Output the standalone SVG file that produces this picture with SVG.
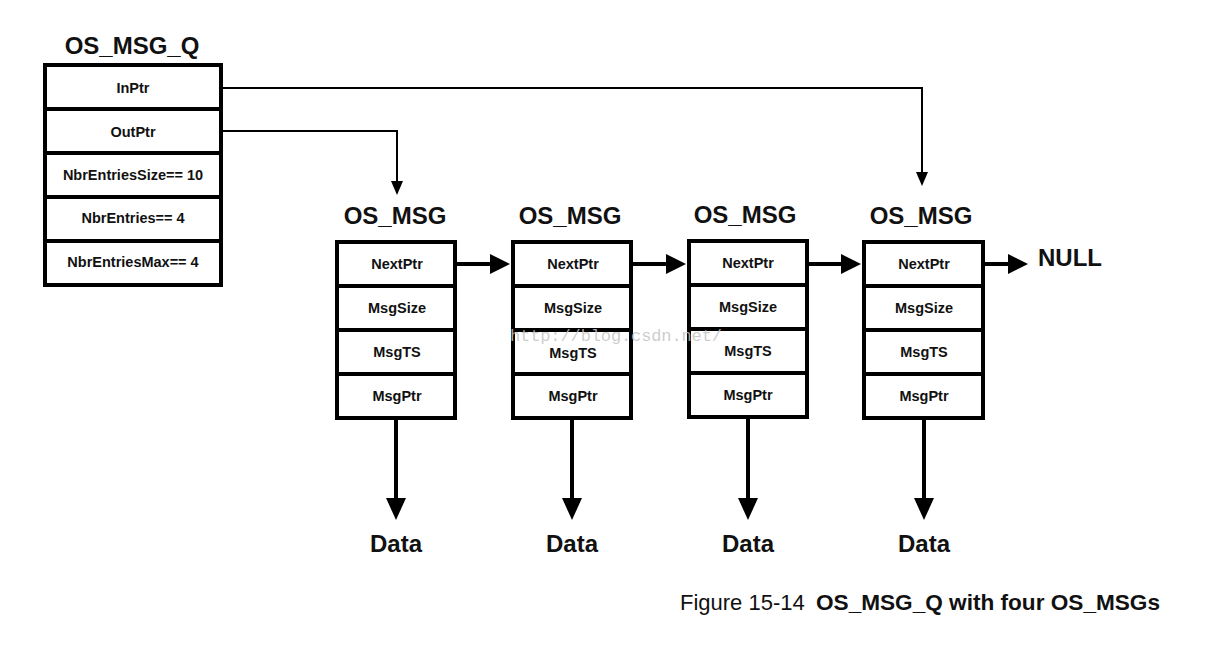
<svg xmlns="http://www.w3.org/2000/svg" width="1212" height="653" viewBox="0 0 1212 653">
<style>
.box{fill:#fff;stroke:#000;stroke-width:4}
.div{stroke:#000;stroke-width:4}
.cell{font-family:"Liberation Sans",Arial,sans-serif;font-weight:bold;font-size:14.5px;fill:#111;text-anchor:middle}
.title{font-family:"Liberation Sans",Arial,sans-serif;font-weight:bold;font-size:24px;fill:#111;text-anchor:middle}
.thin{fill:none;stroke:#000;stroke-width:2}
.thick{fill:none;stroke:#000;stroke-width:4}
.wm{font-family:"Liberation Mono",monospace;font-size:17px;fill:#c4c4c4;fill-opacity:0.85}
.cap{font-family:"Liberation Sans",Arial,sans-serif;font-size:22px;fill:#111}
</style>
<rect width="1212" height="653" fill="#fff"/>

<g id="os_msg_q">
<text class="title" x="132" y="54">OS_MSG_Q</text>
<rect class="box" x="45" y="65" width="176" height="220"/>
<line class="div" x1="45" y1="109" x2="221" y2="109"/>
<line class="div" x1="45" y1="153" x2="221" y2="153"/>
<line class="div" x1="45" y1="197" x2="221" y2="197"/>
<line class="div" x1="45" y1="241" x2="221" y2="241"/>
<text class="cell" x="133" y="93">InPtr</text>
<text class="cell" x="133" y="137">OutPtr</text>
<text class="cell" x="133" y="180">NbrEntriesSize== 10</text>
<text class="cell" x="133" y="223">NbrEntries== 4</text>
<text class="cell" x="133" y="267">NbrEntriesMax== 4</text>
</g>

<g id="msg1">
<text class="title" x="395" y="224">OS_MSG</text>
<rect class="box" x="337" y="242" width="118" height="176"/>
<line class="div" x1="337" y1="286" x2="455" y2="286"/>
<line class="div" x1="337" y1="330" x2="455" y2="330"/>
<line class="div" x1="337" y1="374" x2="455" y2="374"/>
<text class="cell" x="397" y="269">NextPtr</text>
<text class="cell" x="397" y="313">MsgSize</text>
<text class="cell" x="397" y="357">MsgTS</text>
<text class="cell" x="397" y="401">MsgPtr</text>
</g>
<g id="msg2">
<text class="title" x="570" y="224">OS_MSG</text>
<rect class="box" x="513" y="242" width="118" height="176"/>
<line class="div" x1="513" y1="286" x2="631" y2="286"/>
<line class="div" x1="513" y1="330" x2="631" y2="330"/>
<line class="div" x1="513" y1="374" x2="631" y2="374"/>
<text class="cell" x="573" y="313">MsgSize</text>
<text class="cell" x="573" y="269">NextPtr</text>
<text class="cell" x="573" y="358">MsgTS</text>
<text class="cell" x="573" y="401">MsgPtr</text>
</g>
<g id="msg3">
<text class="title" x="745" y="223">OS_MSG</text>
<rect class="box" x="689" y="241" width="118" height="176"/>
<line class="div" x1="689" y1="285" x2="807" y2="285"/>
<line class="div" x1="689" y1="329" x2="807" y2="329"/>
<line class="div" x1="689" y1="373" x2="807" y2="373"/>
<text class="cell" x="748" y="268">NextPtr</text>
<text class="cell" x="748" y="312">MsgSize</text>
<text class="cell" x="748" y="356">MsgTS</text>
<text class="cell" x="748" y="400">MsgPtr</text>
</g>
<g id="msg4">
<text class="title" x="921" y="224">OS_MSG</text>
<rect class="box" x="864" y="242" width="119" height="176"/>
<line class="div" x1="864" y1="286" x2="983" y2="286"/>
<line class="div" x1="864" y1="330" x2="983" y2="330"/>
<line class="div" x1="864" y1="374" x2="983" y2="374"/>
<text class="cell" x="924" y="269">NextPtr</text>
<text class="cell" x="924" y="313">MsgSize</text>
<text class="cell" x="924" y="357">MsgTS</text>
<text class="cell" x="924" y="401">MsgPtr</text>
</g>

<g id="labels">
<text class="title" x="1070" y="266">NULL</text>
<text class="title" x="396" y="552">Data</text>
<text class="title" x="572" y="552">Data</text>
<text class="title" x="748" y="552">Data</text>
<text class="title" x="924" y="552">Data</text>
<text class="cap" x="680" y="610">Figure 15-14 <tspan x="816" font-weight="bold" textLength="344" lengthAdjust="spacingAndGlyphs">OS_MSG_Q with four OS_MSGs</tspan></text>
</g>

<g id="connectors">
<path class="thin" d="M223,88 H922 V174"/>
<path d="M916,172 L928,172 L922,186 Z" fill="#000"/>
<path class="thin" d="M223,131 H397 V183"/>
<path d="M391,181 L403,181 L397,195 Z" fill="#000"/>

<line class="thick" x1="457" y1="264" x2="492" y2="264"/>
<path d="M490,254 L510,264 L490,274 Z" fill="#000"/>
<line class="thick" x1="633" y1="264" x2="668" y2="264"/>
<path d="M666,254 L686,264 L666,274 Z" fill="#000"/>
<line class="thick" x1="809" y1="264" x2="843" y2="264"/>
<path d="M841,254 L861,264 L841,274 Z" fill="#000"/>
<line class="thick" x1="985" y1="264" x2="1010" y2="264"/>
<path d="M1008,254 L1028,264 L1008,274 Z" fill="#000"/>

<line class="thick" x1="396" y1="420" x2="396" y2="500"/>
<path d="M386,498 L406,498 L396,520 Z" fill="#000"/>
<line class="thick" x1="572" y1="420" x2="572" y2="500"/>
<path d="M562,498 L582,498 L572,520 Z" fill="#000"/>
<line class="thick" x1="748" y1="419" x2="748" y2="500"/>
<path d="M738,498 L758,498 L748,520 Z" fill="#000"/>
<line class="thick" x1="924" y1="420" x2="924" y2="500"/>
<path d="M914,498 L934,498 L924,520 Z" fill="#000"/>
</g>

<text class="wm" x="510" y="341" textLength="212">http://blog.csdn.net/</text>
</svg>
